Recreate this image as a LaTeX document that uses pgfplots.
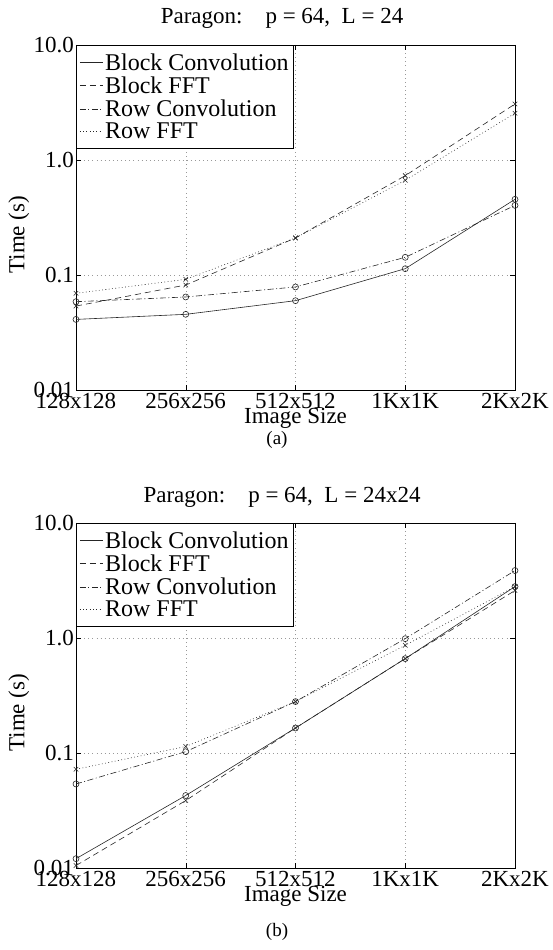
\documentclass[border=0pt]{standalone}
\usepackage{fontspec}
\setmainfont{Liberation Serif}
\usepackage{pgfplots}
\pgfplotsset{compat=1.18}

% Paragon timings, p = 64
\pgfplotstableread{
x bconv bfft rconv rfft
0 0.0411 0.0537 0.0586 0.0693
1 0.0455 0.0818 0.0644 0.0917
2 0.0598 0.2100 0.0787 0.2100
3 0.1135 0.7310 0.1425 0.6660
4 0.4550 3.0700 0.4030 2.5500
}\tabA
\pgfplotstableread{
x bconv bfft rconv rfft
0 0.01205 0.0105 0.0538 0.0722
1 0.0427 0.0386 0.1027 0.1140
2 0.1650 0.1650 0.2800 0.2800
3 0.6620 0.6620 0.9870 0.8640
4 2.8000 2.5900 3.8600 2.8000
}\tabB

\pgfplotsset{
  scale only axis,
  width=439pt, height=345pt,
  xmin=0, xmax=4, ymin=0.01, ymax=10,
  xtick={0,1,2,3,4},
  xticklabels={128x128,256x256,512x512,1Kx1K,2Kx2K},
  ytick={0.01,0.1,1,10},
  yticklabels={0.01,0.1,1.0,10.0},
  yminorticks=false,
  tick align=inside,
  major tick length=5pt,
  tick style={black, line width=0.5pt},
  axis line style={black, line width=0.8pt},
  grid=major,
  major grid style={black!40, line width=0.5pt, dash pattern=on 0.6pt off 3.5pt},
  ticklabel style={font=\fontsize{23}{26}\selectfont},
  xticklabel style={inner sep=0pt, yshift=-3pt, text depth=0pt},
  yticklabel style={inner sep=2pt, text depth=0pt},
  xlabel={Image Size},
  ylabel={Time (s)},
  label style={font=\fontsize{23}{26}\selectfont},
  xlabel style={inner sep=0pt, yshift=0pt},
  ylabel style={at={(ticklabel cs:0.45)}, inner sep=2pt},
  legend style={at={(0,1)}, anchor=north west, draw=black, line width=1.1pt,
    font=\fontsize{24}{26}\selectfont, inner xsep=3pt, inner ysep=6pt,
    row sep=1pt, cells={anchor=west}},
  legend cell align=left,
  legend image code/.code={\draw[#1, line width=0.6pt] (0pt,0pt) -- (23pt,0pt);},
  every axis plot/.append style={black!85, line width=0.6pt},
  bc/.style={solid, mark=o, mark size=3pt, mark options={solid}},
  bf/.style={dash pattern=on 6pt off 4pt, mark=x, mark size=3.2pt, mark options={solid}},
  rc/.style={dash pattern=on 6pt off 2.5pt on 1pt off 2.5pt, mark=o, mark size=3pt, mark options={solid}},
  rf/.style={dash pattern=on 0.8pt off 2.5pt, mark=x, mark size=3.2pt, mark options={solid}},
}

\begin{document}
\begin{tikzpicture}
\useasboundingbox (0pt,0pt) rectangle (552pt,950pt);

\begin{semilogyaxis}[at={(76pt,560pt)}, anchor=south west]
\addplot[bc] table[x=x, y=bconv] {\tabA};
\addlegendentry{Block Convolution}
\addplot[bf] table[x=x, y=bfft] {\tabA};
\addlegendentry{Block FFT}
\addplot[rc] table[x=x, y=rconv] {\tabA};
\addlegendentry{Row Convolution}
\addplot[rf] table[x=x, y=rfft] {\tabA};
\addlegendentry{Row FFT}
\end{semilogyaxis}

\begin{semilogyaxis}[at={(76pt,82pt)}, anchor=south west]
\addplot[bc] table[x=x, y=bconv] {\tabB};
\addlegendentry{Block Convolution}
\addplot[bf] table[x=x, y=bfft] {\tabB};
\addlegendentry{Block FFT}
\addplot[rc] table[x=x, y=rconv] {\tabB};
\addlegendentry{Row Convolution}
\addplot[rf] table[x=x, y=rfft] {\tabB};
\addlegendentry{Row FFT}
\end{semilogyaxis}

\node[font=\fontsize{23}{26}\selectfont, anchor=base] at (282pt,926pt)
  {Paragon:\hspace{1em}p = 64,\ \ L = 24};
\node[font=\fontsize{19}{22}\selectfont] at (277pt,510pt) {(a)};
\node[font=\fontsize{23}{26}\selectfont, anchor=base] at (282pt,447pt)
  {Paragon:\hspace{1em}p = 64,\ \ L = 24x24};
\node[font=\fontsize{19}{22}\selectfont] at (277pt,18pt) {(b)};
\end{tikzpicture}
\end{document}
